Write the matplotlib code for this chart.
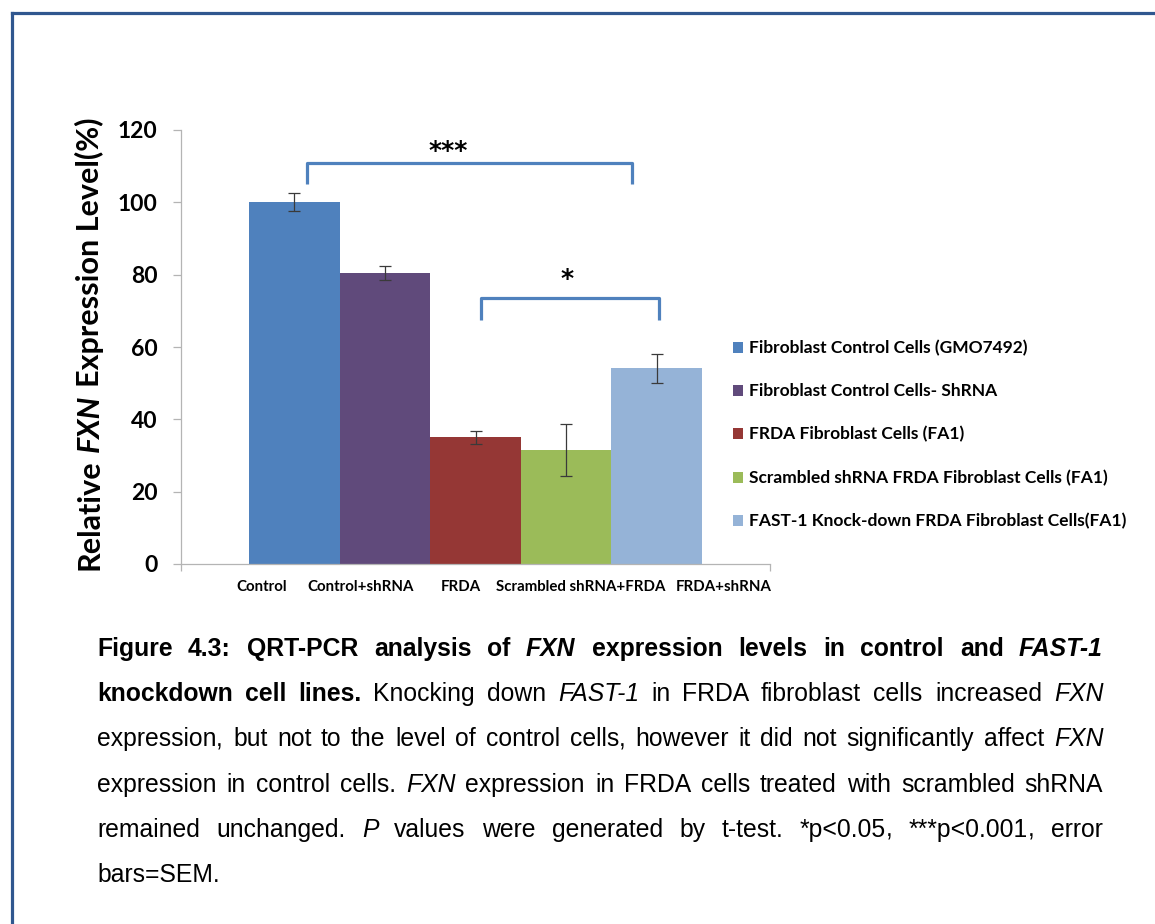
import matplotlib
matplotlib.use("Agg")
import matplotlib.pyplot as plt
from matplotlib.lines import Line2D
from matplotlib.patches import Patch

# ---- data -------------------------------------------------------------
groups = ["Control", "Control+shRNA", "FRDA", "Scrambled shRNA+FRDA", "FRDA+shRNA"]
series_labels = [
    "Fibroblast Control Cells (GMO7492)",
    "Fibroblast Control Cells- ShRNA",
    "FRDA Fibroblast Cells (FA1)",
    "Scrambled shRNA FRDA Fibroblast Cells (FA1)",
    "FAST-1 Knock-down FRDA Fibroblast Cells(FA1)",
]
expression = [100.0, 80.5, 35.0, 31.6, 54.1]
sem = [2.5, 2.0, 1.7, 7.2, 4.0]
y_ticks = [0, 20, 40, 60, 80, 100, 120]
# significance brackets: (left index, right index, label)
comparisons = [(0, 4, "***"), (2, 4, "*")]

# ---- style / layout -----------------------------------------------------
colors = ["#4F81BD", "#604A7B", "#953735", "#9BBB59", "#95B3D7"]
BAR_W = 0.1537
label_x = [-0.3625, -0.1944, -0.0246, 0.1791, 0.4211]
# bracket geometry per comparison: (x left, x right, y top, y leg end, text x, text baseline)
bracket_geom = [(-0.2866, 0.2662, 111.0, 105.2, -0.047, 112.2),
                (0.0093, 0.3115, 73.6, 67.4, 0.155, 76.8)]
BRACKET_C = "#4F81BD"
AXIS_C = "#B4B4B4"
SANS = "Lato"
CAP_FONT = "Liberation Sans"

W, H = 1155, 924
fig = plt.figure(figsize=(W / 100, H / 100), dpi=100)
fig.patch.set_facecolor("white")


def fx(px):
    return px / W


def fy(py):
    return 1 - py / H


# page frame (top and left edges)
for xs, ys in [((12, W + 5), (13, 13)), ((12, 12), (13, H + 5))]:
    fig.add_artist(Line2D([fx(v) for v in xs], [fy(v) for v in ys],
                          color="#30578F", lw=2.3, solid_capstyle="projecting"))

ax = fig.add_axes([fx(181), fy(564), fx(770) - fx(181), (564 - 130) / H])
xpos = [(i - 2) * BAR_W for i in range(len(expression))]
ax.bar(xpos, expression, width=BAR_W, color=colors, zorder=2,
       yerr=sem, capsize=4.5,
       error_kw=dict(ecolor="#3A3A3A", elinewidth=0.9, capthick=0.9))
ax.set_xlim(-0.5, 0.5)
ax.set_ylim(0, 120)
ax.set_yticks(y_ticks)
ax.set_xticks([-0.5, 0.5])
ax.set_xticklabels([])
for s in ("top", "right"):
    ax.spines[s].set_visible(False)
for s in ("left", "bottom"):
    ax.spines[s].set_color(AXIS_C)
    ax.spines[s].set_linewidth(0.9)
ax.tick_params(axis="y", length=6, width=0.9, color=AXIS_C, pad=11,
               labelsize=16.5)
ax.tick_params(axis="x", length=5, width=0.9, color=AXIS_C)
for lab in ax.get_yticklabels():
    lab.set_fontweight("bold")
    lab.set_fontfamily(SANS)

xt = ax.get_xaxis_transform()
for name, lx in zip(groups, label_x):
    ax.text(lx, -0.053, name, transform=xt, ha="center", va="center",
            fontsize=10.8, fontweight="bold", family=SANS)

for (i0, i1, lab), (x0, x1, yt, yl, tx, ty) in zip(comparisons, bracket_geom):
    ax.plot([x0, x0, x1, x1], [yl, yt, yt, yl], color=BRACKET_C, lw=2.3,
            solid_joinstyle="round", solid_capstyle="butt", clip_on=False)
    ax.text(tx, ty, lab, ha="center", va="baseline", fontsize=18,
            fontweight="bold", family="DejaVu Sans")

# legend
handles = [Patch(facecolor=c, edgecolor="none") for c in colors]
fig.legend(handles, series_labels, loc="upper left",
           bbox_to_anchor=(fx(733), fy(340)), frameon=False,
           borderpad=0, borderaxespad=0, handlelength=0.6, handleheight=0.6,
           handletextpad=0.3, labelspacing=1.56,
           prop=dict(family=SANS, weight="bold", size=12.5))

fig.canvas.draw()
renderer = fig.canvas.get_renderer()


def width_px(s, **kw):
    t = fig.text(0, 0, s, **kw)
    w = t.get_window_extent(renderer).width
    t.remove()
    return w


# y-axis title built from pieces so the gene name can be italic
ylab_parts = [("Relative", "normal"), ("FXN", "italic"), ("Expression Level(%)", "normal")]
ykw = dict(family=SANS, fontweight="bold", fontsize=22)
space_w = width_px("a a", **ykw) - width_px("aa", **ykw)
part_w = [width_px(p, style=st, **ykw) for p, st in ylab_parts]
total = sum(part_w) + space_w * (len(part_w) - 1)
y_cur = 344 + total / 2
for (p, st), w in zip(ylab_parts, part_w):
    fig.text(fx(89.5), fy(y_cur), p, rotation=90, ha="center", va="bottom",
             style=st, rotation_mode="default", **ykw)
    y_cur -= w + space_w

# caption, fully justified
B, I, BI, R = ("bold", "normal"), ("normal", "italic"), ("bold", "italic"), ("normal", "normal")
caption = [
    [("Figure 4.3: QRT-PCR analysis of", B), ("FXN", BI),
     ("expression levels in control and", B), ("FAST-1", BI)],
    [("knockdown cell lines.", B), ("Knocking down", R), ("FAST-1", I),
     ("in FRDA fibroblast cells increased", R), ("FXN", I)],
    [("expression, but not to the level of control cells, however it did not significantly affect", R),
     ("FXN", I)],
    [("expression in control cells.", R), ("FXN", I),
     ("expression in FRDA cells treated with scrambled shRNA", R)],
    [("remained unchanged.", R), ("P", I),
     ("values were generated by t-test. *p<0.05, ***p<0.001, error", R)],
    [("bars=SEM.", R)],
]
ckw = dict(family=CAP_FONT, fontsize=17.8)
c_space = width_px("a a", **ckw) - width_px("aa", **ckw)
left_px, right_px = 97, 1103
base0, step = 656, 45.2


def word_parts(wd):
    # a trailing comma is drawn as its own piece, right after the word
    if len(wd) > 1 and wd.endswith(","):
        return [wd[:-1], ","]
    return [wd]


for li, line in enumerate(caption):
    words = []
    for seg, (wt, st) in line:
        for wd in seg.split():
            words.append((wd, wt, st))
    piece_w = [[width_px(p, fontweight=wt, style=st, **ckw) for p in word_parts(wd)]
               for wd, wt, st in words]
    ws = [sum(pw) for pw in piece_w]
    last = li == len(caption) - 1
    if last or len(words) == 1:
        gap = c_space
    else:
        gap = (right_px - left_px - sum(ws)) / (len(words) - 1)
    xc = left_px
    yb = round(base0 + li * step)
    for (wd, wt, st), pw in zip(words, piece_w):
        xp = xc
        for p, w in zip(word_parts(wd), pw):
            fig.text(fx(round(xp)), fy(yb), p, ha="left", va="baseline",
                     fontweight=wt, style=st, **ckw)
            xp += w
        xc += sum(pw) + gap

fig.savefig("out.png", dpi=100, facecolor="white")
